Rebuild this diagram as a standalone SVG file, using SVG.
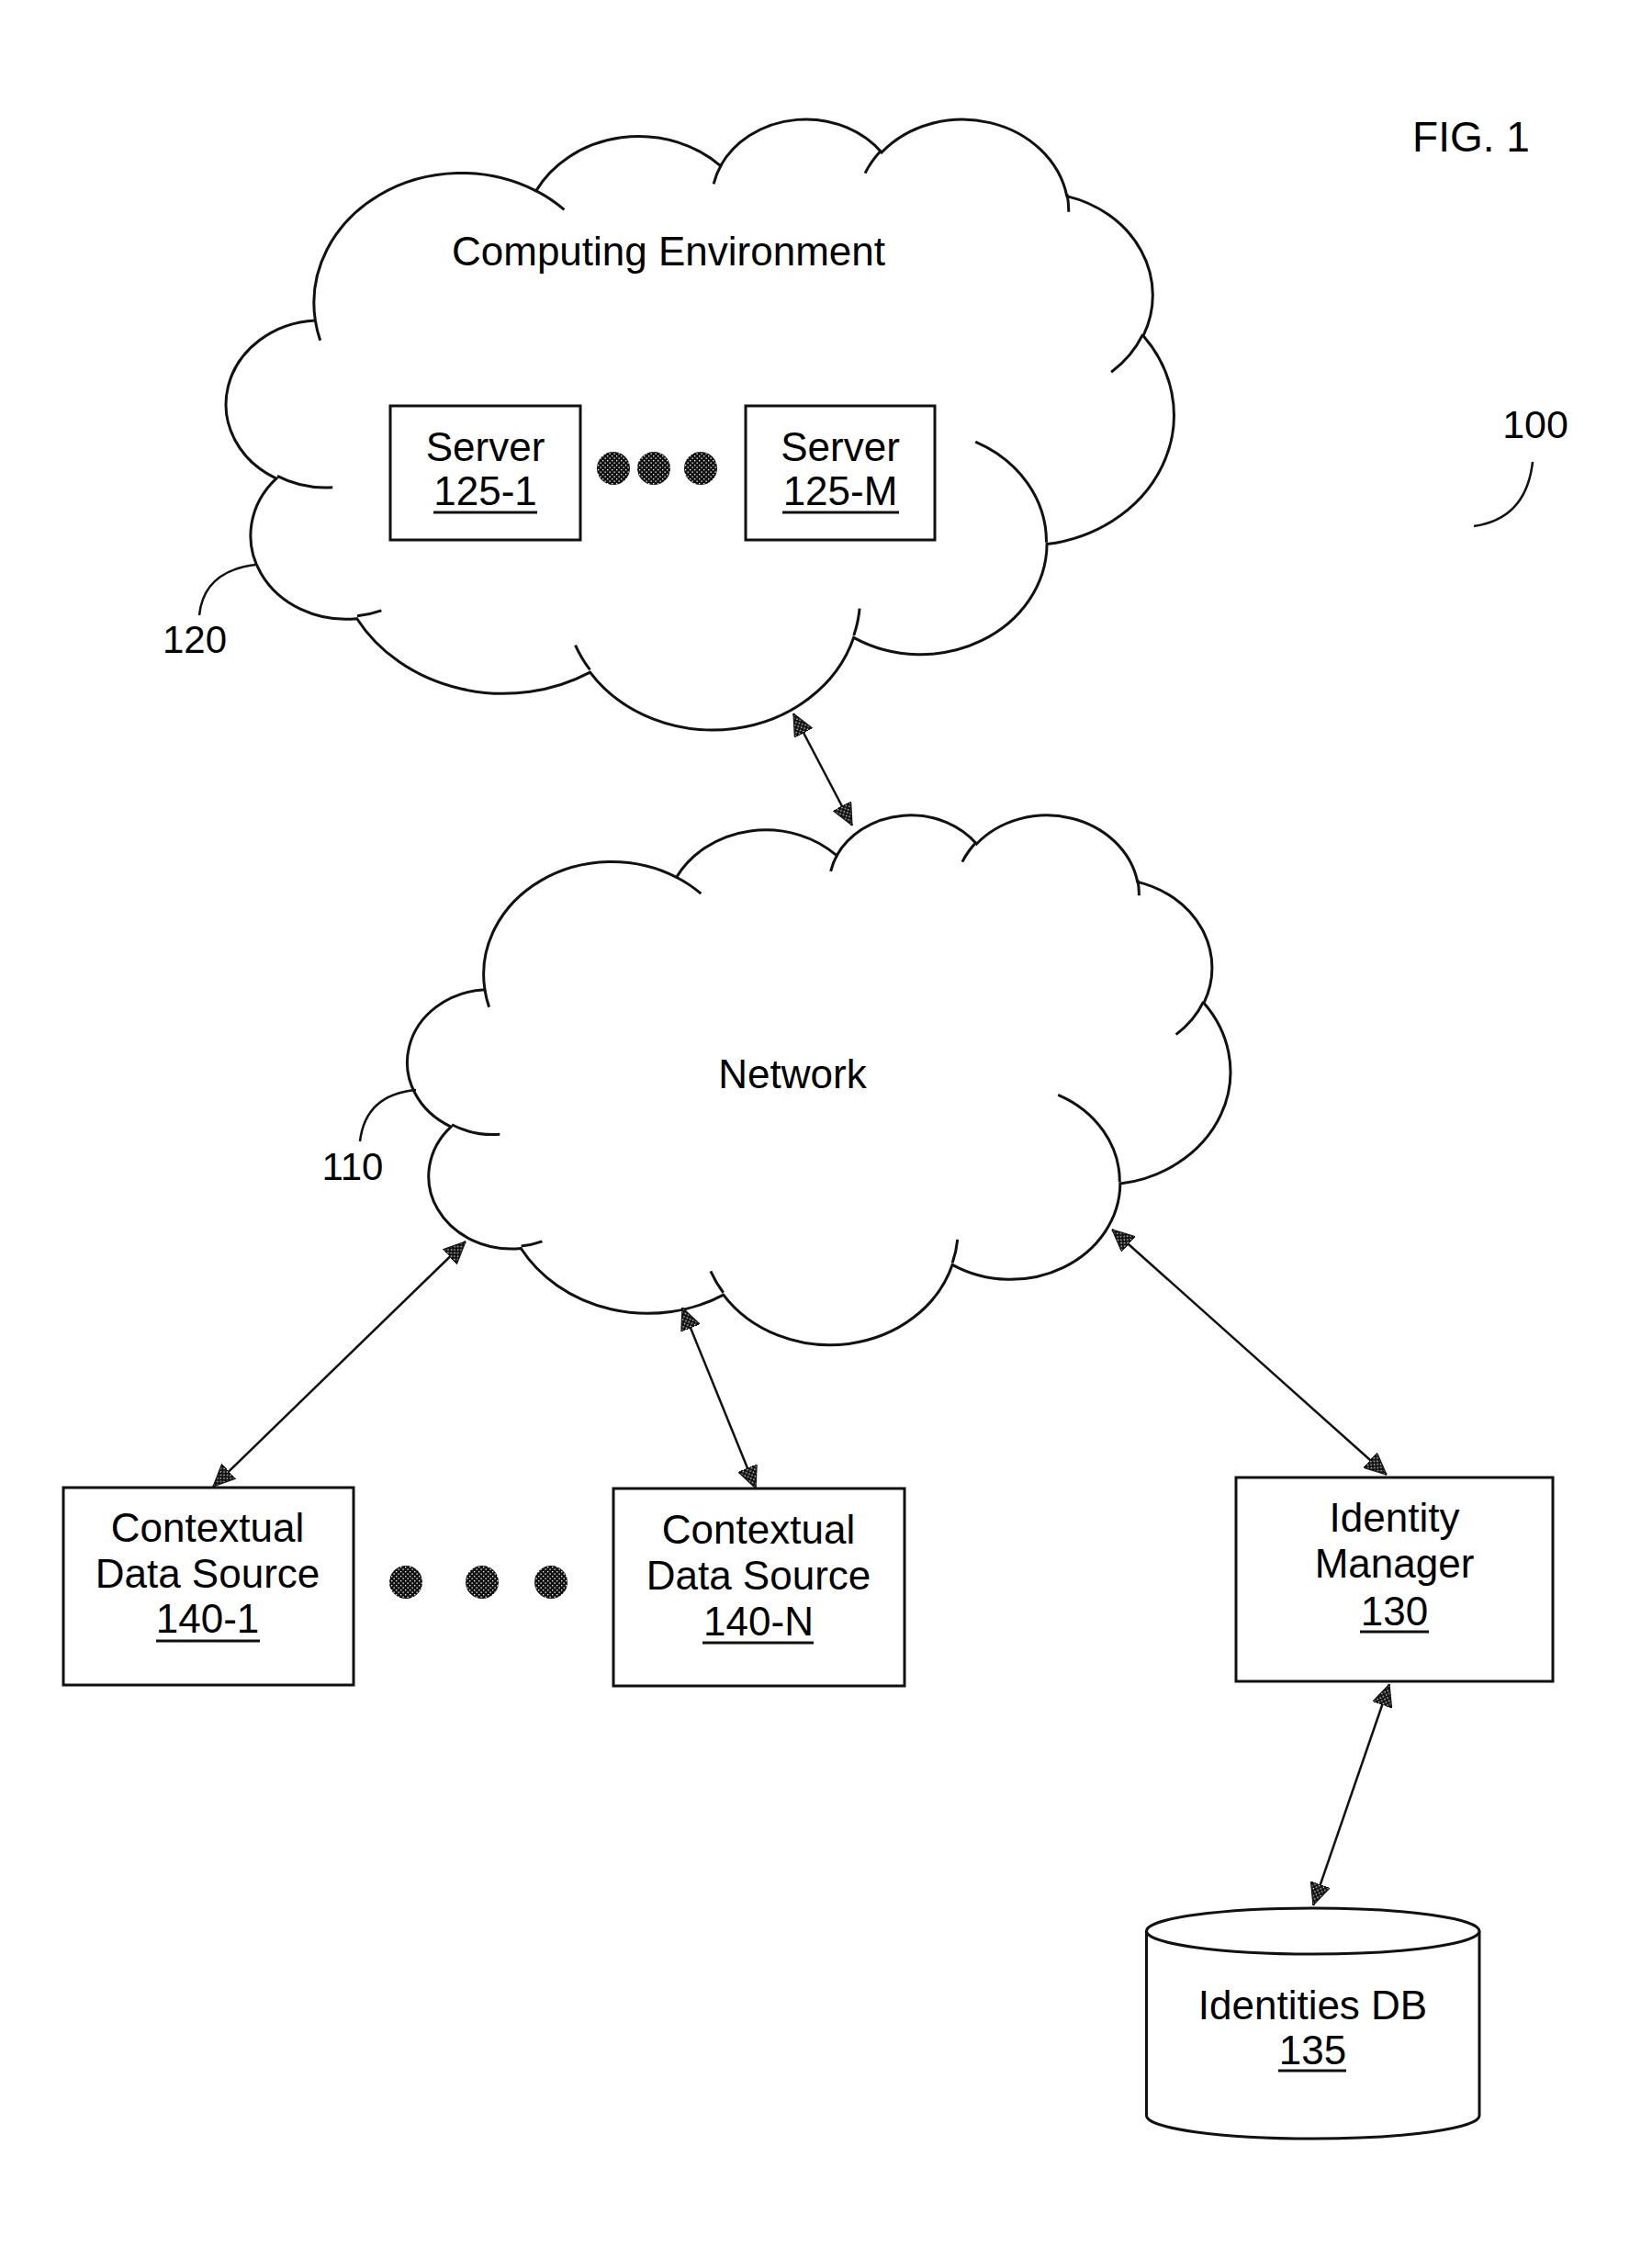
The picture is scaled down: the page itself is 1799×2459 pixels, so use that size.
<svg xmlns="http://www.w3.org/2000/svg" width="1799" height="2459" viewBox="0 0 1799 2459">
<style>
text{font-family:"Liberation Sans",Arial,sans-serif;font-size:44px;fill:#000}
.m{text-anchor:middle}
.box{fill:#fff;stroke:#111;stroke-width:3}
.cl{fill:#fff;stroke:#111;stroke-width:3;vector-effect:non-scaling-stroke}
.tl{fill:none;stroke:#111;stroke-width:3;vector-effect:non-scaling-stroke}
.conn{fill:none;stroke:#111;stroke-width:2.5}
.lead{fill:none;stroke:#111;stroke-width:2.5}
.ul{stroke:#111;stroke-width:3}
.dot{fill:url(#speck)}
</style>
<defs>
<pattern id="speck" width="5" height="5" patternUnits="userSpaceOnUse">
<rect width="5" height="5" fill="#111"/>
<rect x="1" y="1" width="1.3" height="1.3" fill="#fff"/>
<rect x="3.5" y="3.5" width="1.3" height="1.3" fill="#fff"/>
</pattern>
<marker id="ah" viewBox="0 0 24 22" refX="24" refY="11" markerWidth="24" markerHeight="22" markerUnits="userSpaceOnUse" orient="auto-start-reverse">
<path d="M0,0 L24,11 L0,22 Z" fill="url(#speck)" stroke="#111" stroke-width="1.2"/>
</marker>
</defs>
<rect width="1799" height="2459" fill="#fff"/>

<g id="fig-label">
<text x="1602" y="165" class="m" style="font-size:46px">FIG. 1</text>
<text x="1672" y="477" class="m" style="font-size:43px">100</text>
<path class="lead" d="M1669,503 Q1662,565 1605,573"/>
</g>

<g id="computing-environment">
<g transform="translate(250.6,127.8) scale(0.02378,0.015389)">
<path class="cl" d="M3900 14370 A6753 9190 0 0 1 14006 5203 A5333 7267 0 0 1 22457 3432 A4365 5945 0 0 1 29834 2481 A4857 6595 0 0 1 38319 5576 A5333 7273 0 0 1 41819 15460 A6775 9220 0 0 1 37405 30203 A5785 7867 0 0 1 28557 36813 A6752 9215 0 0 1 16483 39268 A7720 10543 0 0 1 5806 35473 A4360 5918 0 0 1 2114 25553 A4345 5945 0 0 1 3900 14370 Z"/>
<path class="tl" d="M4693 26177 A4345 5945 0 0 1 2161 25381 M6928 34899 A4360 5918 0 0 1 5819 35281 M16478 39090 A6752 9215 0 0 1 15809 37346 M28827 34751 A6752 9215 0 0 1 28561 36660 M34129 22954 A5785 7867 0 0 1 37380 30089 M41798 15354 A5333 7273 0 0 1 40350 18030 M38324 5426 A4857 6595 0 0 1 38400 6690 M29078 3952 A4857 6595 0 0 1 29820 2340 M22141 4720 A4365 5945 0 0 1 22500 3330 M14000 5192 A6753 9190 0 0 1 15300 6540 M4127 15789 A6753 9190 0 0 1 3900 14370"/>
</g>
<text x="728" y="289" class="m">Computing Environment</text>
<text x="212" y="711" class="m" style="font-size:42px">120</text>
<path class="lead" d="M278,615 Q222,622 217,670"/>
</g>

<g id="server-125-1">
<rect class="box" x="425" y="442" width="207" height="146"/>
<text x="528.5" y="502" class="m">Server</text>
<text x="528.5" y="550" class="m">125-1</text>
<line class="ul" x1="472" y1="558" x2="585" y2="558"/>
</g>
<g id="server-dots">
<circle class="dot" cx="668" cy="510" r="18"/>
<circle class="dot" cx="712" cy="510" r="18"/>
<circle class="dot" cx="763" cy="510" r="18"/>
</g>
<g id="server-125-M">
<rect class="box" x="812" y="442" width="206" height="146"/>
<text x="915" y="502" class="m">Server</text>
<text x="915" y="550" class="m">125-M</text>
<line class="ul" x1="852" y1="558" x2="979" y2="558"/>
</g>

<g id="network">
<g transform="translate(447.4,885.9) scale(0.020651,0.01335)">
<path class="cl" d="M3900 14370 A6753 9190 0 0 1 14006 5203 A5333 7267 0 0 1 22457 3432 A4365 5945 0 0 1 29834 2481 A4857 6595 0 0 1 38319 5576 A5333 7273 0 0 1 41819 15460 A6775 9220 0 0 1 37405 30203 A5785 7867 0 0 1 28557 36813 A6752 9215 0 0 1 16483 39268 A7720 10543 0 0 1 5806 35473 A4360 5918 0 0 1 2114 25553 A4345 5945 0 0 1 3900 14370 Z"/>
<path class="tl" d="M4693 26177 A4345 5945 0 0 1 2161 25381 M6928 34899 A4360 5918 0 0 1 5819 35281 M16478 39090 A6752 9215 0 0 1 15809 37346 M28827 34751 A6752 9215 0 0 1 28561 36660 M34129 22954 A5785 7867 0 0 1 37380 30089 M41798 15354 A5333 7273 0 0 1 40350 18030 M38324 5426 A4857 6595 0 0 1 38400 6690 M29078 3952 A4857 6595 0 0 1 29820 2340 M22141 4720 A4365 5945 0 0 1 22500 3330 M14000 5192 A6753 9190 0 0 1 15300 6540 M4127 15789 A6753 9190 0 0 1 3900 14370"/>
</g>
<text x="863" y="1185" class="m">Network</text>
<text x="384" y="1285" class="m" style="font-size:42px">110</text>
<path class="lead" d="M453,1187 Q398,1192 392,1243"/>
</g>

<g id="contextual-data-source-140-1">
<rect class="box" x="69" y="1620" width="316" height="215"/>
<text x="226" y="1679" class="m">Contextual</text>
<text x="226" y="1729" class="m">Data Source</text>
<text x="226" y="1778" class="m">140-1</text>
<line class="ul" x1="170" y1="1787" x2="283" y2="1787"/>
</g>
<g id="source-dots">
<circle class="dot" cx="442" cy="1723" r="18"/>
<circle class="dot" cx="525" cy="1723" r="18"/>
<circle class="dot" cx="600" cy="1723" r="18"/>
</g>
<g id="contextual-data-source-140-N">
<rect class="box" x="668" y="1621" width="317" height="215"/>
<text x="826" y="1681" class="m">Contextual</text>
<text x="826" y="1731" class="m">Data Source</text>
<text x="826" y="1781" class="m">140-N</text>
<line class="ul" x1="765" y1="1789" x2="886" y2="1789"/>
</g>

<g id="identity-manager-130">
<rect class="box" x="1346" y="1609" width="345" height="222"/>
<text x="1518.5" y="1668" class="m">Identity</text>
<text x="1518.5" y="1718" class="m">Manager</text>
<text x="1518.5" y="1770" class="m">130</text>
<line class="ul" x1="1481" y1="1777" x2="1556" y2="1777"/>
</g>

<g id="identities-db-135">
<path class="box" d="M1248.5,2103 L1248.5,2304 A181.25,25 0 0 0 1611,2304 L1611,2103"/>
<ellipse class="box" cx="1429.75" cy="2103" rx="181.25" ry="25"/>
<text x="1429.5" y="2199" class="m">Identities DB</text>
<text x="1429.5" y="2248" class="m">135</text>
<line class="ul" x1="1392" y1="2255" x2="1466" y2="2255"/>
</g>

<g id="connectors">
<line class="conn" x1="864" y1="777" x2="928" y2="899" marker-start="url(#ah)" marker-end="url(#ah)"/>
<line class="conn" x1="507" y1="1352" x2="232" y2="1619" marker-start="url(#ah)" marker-end="url(#ah)"/>
<line class="conn" x1="743" y1="1424" x2="823" y2="1621" marker-start="url(#ah)" marker-end="url(#ah)"/>
<line class="conn" x1="1211" y1="1339" x2="1510" y2="1606" marker-start="url(#ah)" marker-end="url(#ah)"/>
<line class="conn" x1="1513" y1="1834" x2="1430" y2="2075" marker-start="url(#ah)" marker-end="url(#ah)"/>
</g>
</svg>
